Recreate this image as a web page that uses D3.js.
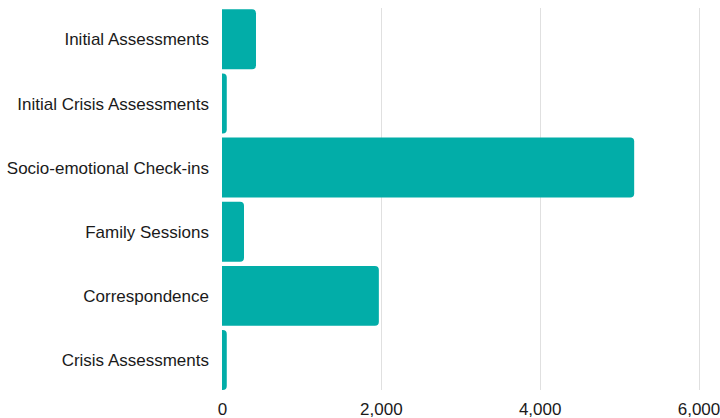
<!DOCTYPE html>
<html>
<head>
<meta charset="utf-8">
<script src="https://cdn.jsdelivr.net/npm/d3@7"></script>
<style>
  body { margin: 0; background: #fff; }
  text { font-family: "Liberation Sans", Arial, sans-serif; }
</style>
</head>
<body>
<script>
var width = 720;
var height = 418;

// data
var categories = ["Initial Assessments", "Initial Crisis Assessments", "Socio-emotional Check-ins",
                  "Family Sessions", "Correspondence", "Crisis Assessments"];
var counts = [428, 60, 5190, 277, 1975, 60];
var xTicks = [0, 2000, 4000, 6000];

var svg = d3.select("body").append("svg")
    .attr("width", width)
    .attr("height", height);

var x = d3.scaleLinear().domain([0, 6000]).range([222, 698.5]);
var y = d3.scaleBand().domain(categories).range([9.3, 390]).paddingInner(0.065).paddingOuter(0);

// grid lines
svg.append("g")
    .selectAll("line")
    .data(xTicks.slice(1))
    .enter()
    .append("line")
    .attr("x1", function (d) { return Math.round(x(d)) + 0.5; })
    .attr("x2", function (d) { return Math.round(x(d)) + 0.5; })
    .attr("y1", 8)
    .attr("y2", 390)
    .attr("stroke", "#e0e0e0")
    .attr("stroke-width", 1);

// bars with rounded right end
function barPath(x0, x1, y0, h, r) {
    r = Math.min(r, (x1 - x0), h / 2);
    return "M" + x0 + "," + y0 +
        "H" + (x1 - r) +
        "Q" + x1 + "," + y0 + " " + x1 + "," + (y0 + r) +
        "V" + (y0 + h - r) +
        "Q" + x1 + "," + (y0 + h) + " " + (x1 - r) + "," + (y0 + h) +
        "H" + x0 + "Z";
}

svg.append("g")
    .selectAll("path")
    .data(categories)
    .enter()
    .append("path")
    .attr("fill", "#02ada8")
    .attr("d", function (d, i) {
        return barPath(x(0), x(counts[i]), y(d), y.bandwidth(), 4);
    });

// category labels
var yAxis = svg.append("g")
    .attr("transform", "translate(" + x(0) + ",0)")
    .call(d3.axisLeft(y).tickSize(0).tickPadding(13));
yAxis.select(".domain").remove();
yAxis.selectAll("text")
    .attr("font-size", "17px")
    .attr("font-family", "Liberation Sans, Arial, sans-serif")
    .attr("fill", "#1a1a1a")
    .attr("dy", "0.36em");

// value axis
var xAxis = svg.append("g")
    .attr("transform", "translate(0,390)")
    .call(d3.axisBottom(x).tickValues(xTicks).tickSize(0).tickPadding(13)
        .tickFormat(d3.format(",")));
xAxis.select(".domain").remove();
xAxis.selectAll("text")
    .attr("font-size", "17px")
    .attr("font-family", "Liberation Sans, Arial, sans-serif")
    .attr("fill", "#1a1a1a");
</script>
</body>
</html>
